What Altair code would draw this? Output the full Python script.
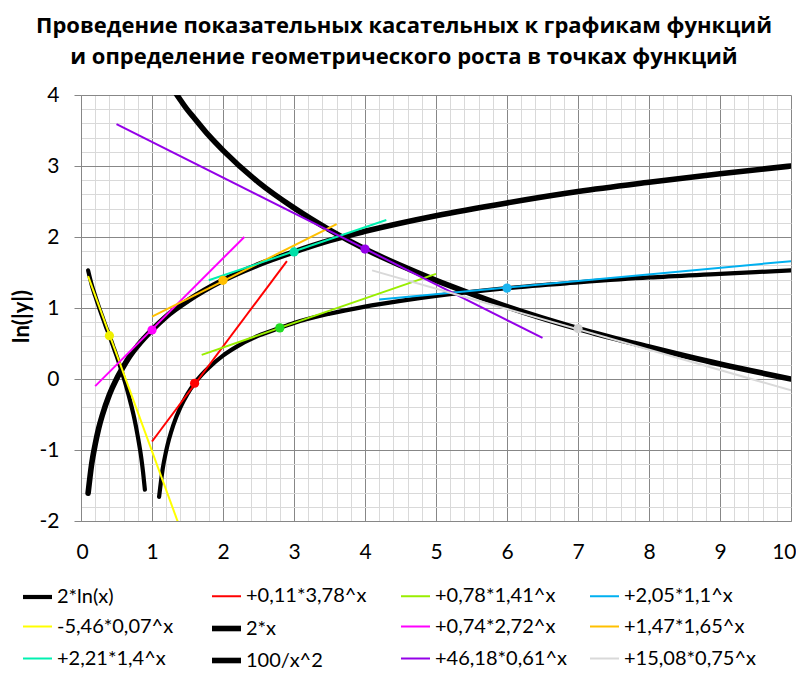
import altair as alt
import pandas as pd

# ---------------- text ----------------
title_lines = ["Проведение показательных касательных к графикам функций",
               "и определение геометрического роста в точках функций"]
y_title = "ln(|y|)"

# ---------------- series (legend order) ----------------
series = ["2*ln(x)", "+0,11*3,78^x", "+0,78*1,41^x", "+2,05*1,1^x",
          "-5,46*0,07^x", "2*x", "+0,74*2,72^x", "+1,47*1,65^x",
          "+2,21*1,4^x", "100/x^2", "+46,18*0,61^x", "+15,08*0,75^x"]
colors = ["#000000", "#ff0000", "#99ee00", "#00b0f0",
          "#ffff00", "#000000", "#ff00ff", "#ffc000",
          "#00f0b0", "#000000", "#9400e8", "#d9d9d9"]
widths = [4.2, 2, 2, 2, 2, 5.6, 2, 2, 2, 5.6, 2, 2]

# ---------------- black curves ----------------
ln_left_x = [0.1, 0.15, 0.2, 0.25, 0.3, 0.35, 0.4, 0.45, 0.5, 0.55, 0.6,
             0.65, 0.7, 0.75, 0.8, 0.85, 0.875, 0.9]
ln_left_y = [1.53, 1.33, 1.17, 1.02, 0.88, 0.74, 0.61, 0.47, 0.33, 0.18,
             0.02, -0.15, -0.34, -0.55, -0.81, -1.12, -1.32, -1.56]
ln_right_x = [1.1, 1.15, 1.2, 1.3, 1.4, 1.5, 1.6, 1.7, 1.8, 2.0, 2.2, 2.5,
              2.8, 3.0, 3.5, 4.0, 4.5, 5.0, 6.0, 7.0, 8.0, 9.0, 10.0]
ln_right_y = [-1.66, -1.27, -1.01, -0.65, -0.40, -0.21, -0.06, 0.06, 0.16,
              0.33, 0.46, 0.61, 0.72, 0.79, 0.92, 1.02, 1.10, 1.17, 1.28,
              1.36, 1.43, 1.48, 1.53]
lin_x = [0.1, 0.15, 0.2, 0.25, 0.3, 0.4, 0.5, 0.6, 0.7, 0.8, 1.0, 1.2, 1.5,
         2.0, 2.5, 3.0, 3.5, 4.0, 5.0, 6.0, 7.0, 8.0, 9.0, 10.0]
lin_y = [-1.61, -1.20, -0.92, -0.69, -0.51, -0.22, 0.0, 0.18, 0.34, 0.47,
         0.69, 0.88, 1.10, 1.39, 1.61, 1.79, 1.95, 2.08, 2.30, 2.48, 2.64,
         2.77, 2.89, 3.00]
inv_x = [1.2, 1.3, 1.4, 1.5, 1.6, 1.8, 2.0, 2.5, 3.0, 3.5, 4.0, 4.5, 5.0,
         5.5, 6.0, 7.0, 8.0, 9.0, 10.0]
inv_y = [4.24, 4.08, 3.93, 3.79, 3.67, 3.43, 3.22, 2.77, 2.41, 2.10, 1.83,
         1.60, 1.39, 1.20, 1.02, 0.71, 0.45, 0.21, 0.0]

# ---------------- tangent segments (start / end) -----
tan_series = ["+0,11*3,78^x", "+0,78*1,41^x", "+2,05*1,1^x", "-5,46*0,07^x",
              "+0,74*2,72^x", "+1,47*1,65^x", "+2,21*1,4^x", "+46,18*0,61^x",
              "+15,08*0,75^x"]
tan_x0 = [1.0, 1.7, 4.2, 0.1, 0.2, 1.0, 1.8, 0.5, 4.1]
tan_y0 = [-0.88, 0.34, 1.12, 1.45, -0.10, 0.88, 1.39, 3.59, 1.53]
tan_x1 = [2.9, 5.0, 10.0, 1.37, 2.3, 3.6, 4.3, 6.5, 10.0]
tan_y1 = [1.66, 1.48, 1.66, -2.03, 2.00, 2.18, 2.24, 0.58, -0.16]

# ---------------- tangent points ----------------
dot_x = [1.6, 2.8, 6.0, 0.4, 1.0, 2.0, 3.0, 4.0, 7.0]
dot_y = [-0.06, 0.72, 1.28, 0.61, 0.69, 1.39, 1.79, 1.83, 0.71]
dot_colors = ["#ff0000", "#22dd22", "#1ab4f0", "#f0f000", "#ff00ff",
              "#ffc000", "#00e0a8", "#9400e8", "#d0d0d0"]

# ---------------- tables ----------------
rows = []
for x, y in zip(ln_left_x, ln_left_y):
    rows.append({"series": "2*ln(x)", "branch": "a", "x": x, "y": y})
for x, y in zip(ln_right_x, ln_right_y):
    rows.append({"series": "2*ln(x)", "branch": "b", "x": x, "y": y})
for x, y in zip(lin_x, lin_y):
    rows.append({"series": "2*x", "branch": "a", "x": x, "y": y})
for x, y in zip(inv_x, inv_y):
    rows.append({"series": "100/x^2", "branch": "a", "x": x, "y": y})
df_curves = pd.DataFrame(rows)

trows = []
for s, a, b, c, d in zip(tan_series, tan_x0, tan_y0, tan_x1, tan_y1):
    trows.append({"series": s, "x": a, "y": b})
    trows.append({"series": s, "x": c, "y": d})
df_tan = pd.DataFrame(trows)

df_dots = pd.DataFrame({"x": dot_x, "y": dot_y, "c": dot_colors})

# ---------------- scales / axes ----------------
FONT = "Lato"
GRID_MAJOR = "#878787"
GRID_MINOR = "#d9d9d9"
is_int = "abs(datum.value - round(datum.value)) < 0.001"

x_vals = [round(i / 5, 2) for i in range(51)]
y_vals = [round(i / 5 - 2, 2) for i in range(31)]

x_enc = alt.X("x:Q",
              scale=alt.Scale(domain=[0, 10], nice=False, zero=False),
              axis=alt.Axis(values=x_vals, title=None, ticks=False,
                            labelExpr=f"{is_int} ? '' + round(datum.value) : ''",
                            labelOverlap=False, labelFlush=True,
                            labelFlushOffset=5, labelFont=FONT, labelFontSize=21,
                            labelColor="#000000", labelPadding=20,
                            domainColor=GRID_MAJOR, domainWidth=1,
                            grid=True,
                            gridColor={"condition": {"test": is_int, "value": GRID_MAJOR},
                                       "value": GRID_MINOR}))
y_enc = alt.Y("y:Q",
              scale=alt.Scale(domain=[-2, 4], nice=False, zero=False),
              axis=alt.Axis(values=y_vals, title=y_title, titleFont=FONT,
                            titleFontSize=22, titleFontWeight="bold",
                            titleColor="#000000", titleX=-60, titleY=221,
                            titleAngle=270, titleAlign="center",
                            titleBaseline="middle",
                            tickSize=7,
                            tickColor={"condition": {"test": is_int, "value": GRID_MAJOR},
                                       "value": "transparent"},
                            labelExpr=f"{is_int} ? '' + round(datum.value) : ''",
                            labelOverlap=False, labelFlush=False,
                            labelFont=FONT, labelFontSize=21,
                            labelColor="#000000", labelPadding=15,
                            domainColor=GRID_MAJOR, domainWidth=1,
                            grid=True,
                            gridColor={"condition": {"test": is_int, "value": GRID_MAJOR},
                                       "value": GRID_MINOR}))

color_scale = alt.Scale(domain=series, range=colors)
width_scale = alt.Scale(type="ordinal", domain=series, range=widths)
legend = alt.Legend(title=None, orient="none", legendX=-61, legendY=484,
                    direction="horizontal", columns=4, gridAlign="all",
                    columnPadding=11, rowPadding=3, symbolType="stroke",
                    symbolSize=841, labelFont=FONT, labelFontSize=20,
                    labelColor="#000000", labelOffset=2, labelLimit=400,
                    padding=0)

curves = alt.Chart(df_curves).mark_line(
    clip=True, strokeCap="round", interpolate="monotone"
).encode(
    x=x_enc, y=y_enc,
    color=alt.Color("series:N", scale=color_scale, legend=legend),
    strokeWidth=alt.StrokeWidth("series:N", scale=width_scale, legend=legend),
    detail="branch:N",
)

tangents = alt.Chart(df_tan).mark_line(clip=True).encode(
    x=x_enc, y=y_enc,
    color=alt.Color("series:N", scale=color_scale, legend=legend),
    strokeWidth=alt.StrokeWidth("series:N", scale=width_scale, legend=legend),
)

dots = alt.Chart(df_dots).mark_circle(size=85, opacity=1, clip=True).encode(
    x=x_enc, y=y_enc,
    color=alt.Color("c:N", scale=None),
)

chart = alt.layer(curves, tangents, dots).properties(
    width=710, height=426,
    autosize=alt.AutoSizeParams(type="none"),
    padding={"left": 73, "top": 87, "right": 5, "bottom": 148},
    title=alt.TitleParams(text=title_lines, font="Open Sans", fontSize=22,
                          fontWeight="bold", color="#000000", anchor="middle",
                          dx=-32, lineHeight=31, offset=15),
).configure_view(stroke=None)

chart.save("out.html", embed_options={"renderer": "svg", "actions": False})
